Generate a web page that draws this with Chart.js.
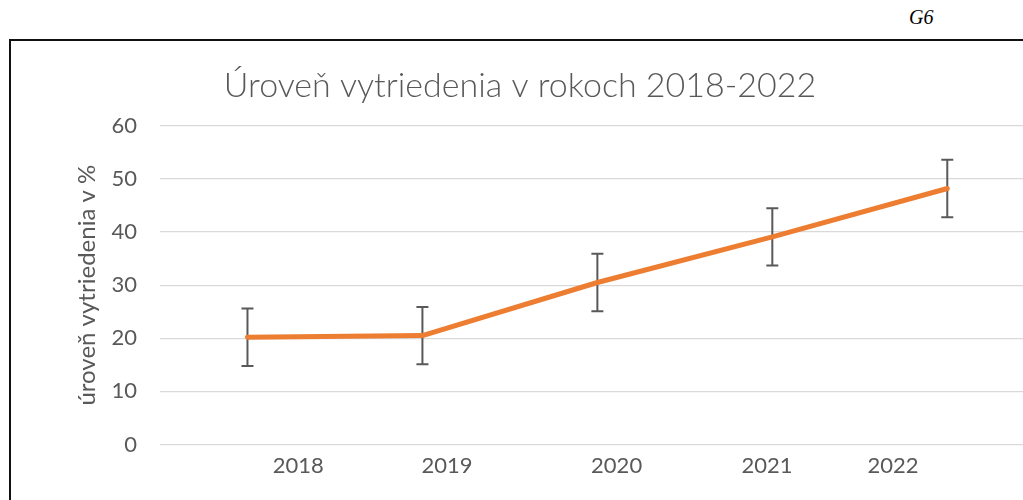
<!DOCTYPE html>
<html>
<head>
<meta charset="utf-8">
<script src="https://cdn.jsdelivr.net/npm/chart.js@4"></script>
<style>
  html, body { margin: 0; padding: 0; background: #fff; overflow: hidden; width: 1023px; height: 500px; }
  #frame { position: absolute; left: 9px; top: 39px; width: 1100px; height: 500px; border-left: 2px solid #111; border-top: 2px solid #111; }
  #tag { position: absolute; left: 909px; top: 6px; font: italic 20px "Liberation Serif", serif; color: #000; }
  #wrap { position: absolute; left: 0; top: 0; width: 1040px; height: 500px; }
</style>
</head>
<body>
<div id="tag">G6</div>
<div id="frame"></div>
<div id="wrap"><canvas id="chart"></canvas></div>
<script>
// data
var years = ["2018", "2019", "2020", "2021", "2022"];
var values = [20.2, 20.5, 30.5, 39.1, 48.2];
var errors = [5.4, 5.4, 5.4, 5.4, 5.4];
var yTicks = [0, 10, 20, 30, 40, 50, 60];
// where the year labels sit along the axis (in point-index units)
var labelSlots = [0.29, 1.14, 2.11, 2.97, 3.69];

var grey = "#595959";

// error bars, drawn under the line
var errorBars = {
  id: "errorBars",
  beforeDatasetsDraw: function(chart) {
    var ctx = chart.ctx;
    var xs = chart.scales.x, ys = chart.scales.y;
    ctx.save();
    ctx.strokeStyle = grey;
    ctx.lineWidth = 2;
    values.forEach(function(v, i) {
      var px = xs.getPixelForValue(i);
      var top = ys.getPixelForValue(v + errors[i]);
      var bot = ys.getPixelForValue(v - errors[i]);
      ctx.beginPath();
      ctx.moveTo(px, top); ctx.lineTo(px, bot);
      ctx.moveTo(px - 6, top); ctx.lineTo(px + 6, top);
      ctx.moveTo(px - 6, bot); ctx.lineTo(px + 6, bot);
      ctx.stroke();
    });
    ctx.restore();
  }
};

new Chart(document.getElementById("chart"), {
  type: "line",
  data: {
    datasets: [{
      data: values.map(function(v, i) { return { x: i, y: v }; }),
      borderColor: "#ED7D31",
      borderWidth: 5,
      borderCapStyle: "round",
      borderJoinStyle: "round",
      pointRadius: 0,
      tension: 0
    }]
  },
  options: {
    responsive: true,
    maintainAspectRatio: false,
    animation: false,
    layout: { padding: 0 },
    plugins: {
      legend: { display: false },
      tooltip: { enabled: false },
      title: {
        display: true,
        text: "Úroveň vytriedenia v rokoch 2018-2022",
        color: grey,
        font: { family: "Lato", size: 34, weight: 300 },
        padding: { top: 66, bottom: 19 }
      }
    },
    scales: {
      x: {
        type: "linear",
        min: -0.5,
        max: 4.53,
        grid: { display: false, drawTicks: false },
        border: { display: false },
        afterBuildTicks: function(s) {
          s.ticks = labelSlots.map(function(v) { return { value: v }; });
        },
        afterFit: function(s) { s.height = 55.5; },
        ticks: {
          autoSkip: false,
          maxRotation: 0,
          padding: 8,
          color: grey,
          font: { family: "Lato", size: 22 },
          callback: function(v, i) { return years[i]; }
        }
      },
      y: {
        min: 0,
        max: 60,
        afterBuildTicks: function(s) {
          s.ticks = yTicks.map(function(v) { return { value: v }; });
        },
        afterFit: function(s) { s.width = 160; },
        grid: { color: "#d9d9d9", lineWidth: 1.3, drawTicks: false },
        border: { display: false },
        ticks: {
          padding: 23,
          color: grey,
          font: { family: "Lato", size: 22 }
        },
        title: {
          display: true,
          text: "úroveň vytriedenia v %",
          color: grey,
          font: { family: "Lato", size: 24 },
          padding: { top: 73, bottom: 0 }
        }
      }
    }
  },
  plugins: [errorBars]
});
</script>
</body>
</html>
